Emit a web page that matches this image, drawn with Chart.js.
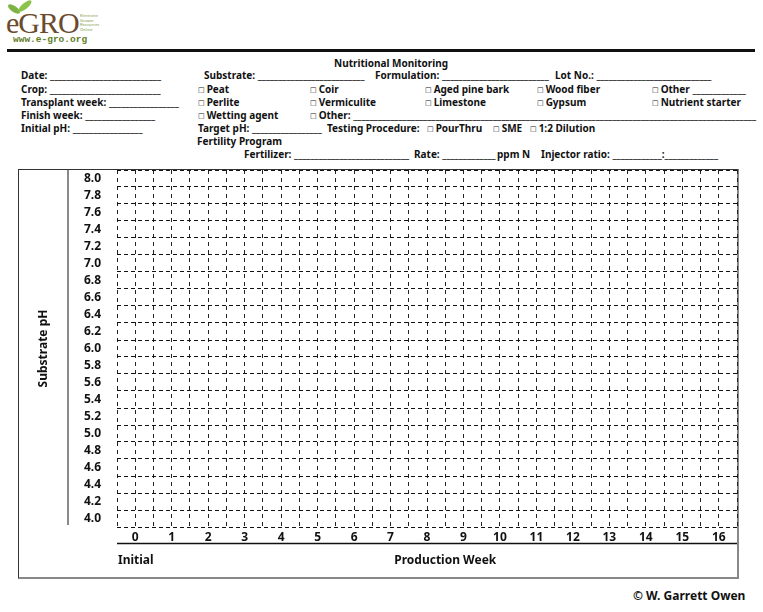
<!DOCTYPE html>
<html>
<head>
<meta charset="utf-8">
<script src="https://cdn.jsdelivr.net/npm/chart.js@4.4.1/dist/chart.umd.min.js"></script>
<style>
  body { margin: 0; width: 763px; height: 612px; position: relative; overflow: hidden; background: #fff;
         font-family: "Noto Sans", sans-serif; font-weight: bold; color: #111; }
  .t { position: absolute; font-size: 10px; line-height: 14px; white-space: nowrap; }
  .cb { font-family: "DejaVu Sans", sans-serif; font-size: 7px; font-weight: normal; vertical-align: 1px; margin-right: 2px; }
  .box { position: absolute; left: 18px; top: 169px; width: 721px; height: 410px; box-sizing: border-box;
         border-top: 1px solid #333; border-left: 1px solid #333; border-right: 2px solid #888; border-bottom: 2px solid #888; }
  #wrap { position: absolute; left: 18px; top: 169px; width: 720px; height: 409px; }
  .leaf { position: absolute; background: #7cb342; border-radius: 50%; }
</style>
</head>
<body>
<!-- logo -->
<div style="position:absolute;left:6px;top:6px;font-family:'Liberation Serif',serif;font-weight:normal;font-size:30px;color:#6b4a2e;letter-spacing:-1px">eGRO</div>
<div class="leaf" style="left:7px;top:6px;width:14px;height:6px;transform:rotate(35deg)"></div>
<div class="leaf" style="left:17px;top:3px;width:16px;height:6px;transform:rotate(-40deg);background:#8bc34a"></div>
<div style="position:absolute;left:80px;top:14px;font-size:4px;line-height:4.5px;color:#7a9a3a;font-weight:normal">Electronic<br>Grower<br>Resources<br>Online</div>
<div style="position:absolute;left:13px;top:34px;font-family:'Liberation Mono',monospace;font-size:9.5px;color:#5f7d27">www.e-gro.org</div>
<div style="position:absolute;left:7px;top:49px;width:748px;height:3px;background:#111"></div>

<!-- form header -->
<div class="t" style="left:334px;top:56px">Nutritional Monitoring</div>

<div class="t" style="left:21px;top:68px">Date: <span class="b" data-r="160"></span></div>
<div class="t" style="left:204px;top:68px">Substrate: <span class="b" data-r="362"></span></div>
<div class="t" style="left:375px;top:68px">Formulation: <span class="b" data-r="546"></span></div>
<div class="t" style="left:555px;top:68px">Lot No.: <span class="b" data-r="709"></span></div>

<div class="t" style="left:21px;top:82px">Crop: <span class="b" data-r="160"></span></div>
<div class="t" style="left:198px;top:82px"><span class="cb">□</span>Peat</div>
<div class="t" style="left:310px;top:82px"><span class="cb">□</span>Coir</div>
<div class="t" style="left:425px;top:82px"><span class="cb">□</span>Aged pine bark</div>
<div class="t" style="left:537px;top:82px"><span class="cb">□</span>Wood fiber</div>
<div class="t" style="left:652px;top:82px"><span class="cb">□</span>Other <span class="b" data-r="745"></span></div>

<div class="t" style="left:21px;top:95px">Transplant week: <span class="b" data-r="176"></span></div>
<div class="t" style="left:198px;top:95px"><span class="cb">□</span>Perlite</div>
<div class="t" style="left:310px;top:95px"><span class="cb">□</span>Vermiculite</div>
<div class="t" style="left:425px;top:95px"><span class="cb">□</span>Limestone</div>
<div class="t" style="left:537px;top:95px"><span class="cb">□</span>Gypsum</div>
<div class="t" style="left:652px;top:95px"><span class="cb">□</span>Nutrient starter</div>

<div class="t" style="left:21px;top:108px">Finish week: <span class="b" data-r="153"></span></div>
<div class="t" style="left:198px;top:108px"><span class="cb">□</span>Wetting agent</div>
<div class="t" style="left:310px;top:108px"><span class="cb">□</span>Other: <span class="b" data-r="752"></span></div>

<div class="t" style="left:21px;top:121px">Initial pH: <span class="b" data-r="139"></span></div>
<div class="t" style="left:198px;top:121px">Target pH: <span class="b" data-r="318"></span></div>
<div class="t" style="left:327px;top:121px">Testing Procedure:</div>
<div class="t" style="left:427px;top:121px"><span class="cb">□</span>PourThru</div>
<div class="t" style="left:493px;top:121px"><span class="cb">□</span>SME</div>
<div class="t" style="left:530px;top:121px"><span class="cb">□</span>1:2 Dilution</div>

<div class="t" style="left:197px;top:134px">Fertility Program</div>

<div class="t" style="left:244px;top:147px">Fertilizer: <span class="b" data-r="406"></span></div>
<div class="t" style="left:414px;top:147px">Rate: <span class="b" data-r="493"></span></div>
<div class="t" style="left:497px;top:147px">ppm N</div>
<div class="t" style="left:541px;top:147px">Injector ratio: <span class="b" data-r="660"></span>:<span class="b" data-r="716"></span></div>

<div class="box"></div>
<div id="wrap"><canvas id="phChart" width="720" height="409"></canvas></div>

<div class="t" style="left:633px;top:588px;font-size:12px;line-height:16px">© W. Garrett Owen</div>

<script>
// chart data (empty monitoring grid)
const weeks = [0, 1, 2, 3, 4, 5, 6, 7, 8, 9, 10, 11, 12, 13, 14, 15, 16];
const phLabels = ['8.0', '7.8', '7.6', '7.4', '7.2', '7.0', '6.8', '6.6', '6.4', '6.2', '6.0',
                  '5.8', '5.6', '5.4', '5.2', '5.0', '4.8', '4.6', '4.4', '4.2', '4.0'];
const phReadings = []; // to be filled in by hand
const yTitle = 'Substrate pH';
const xTitle = 'Production Week';
const initialLabel = 'Initial';

// fill the blanks with underscores up to their right edge
document.querySelectorAll('.b').forEach((el) => {
  const r = +el.dataset.r;
  el.textContent = '_';
  while (el.getBoundingClientRect().right < r) el.textContent += '_';
});

const phValues = phLabels.map(Number);
const r1 = (v) => Math.round(v * 10) / 10;

// pH ticks: each label plus the row edges 0.1 above and below
const yTicks = [...new Set(phValues.flatMap((v) => [r1(v - 0.1), v, r1(v + 0.1)]))].sort((a, b) => a - b);
// week ticks: each week plus the half-week lines either side
const xTicks = [...new Set(weeks.flatMap((w) => [w - 0.5, w, w + 0.5]))].sort((a, b) => a - b);

const tickFont = { family: 'Noto Sans', size: 12, weight: 'bold' };

// no extra label padding, the grid fills the box
function noPad(scale) {
  scale.paddingTop = 0;
  scale.paddingBottom = 0;
  scale.paddingLeft = 0;
  scale.paddingRight = 0;
}

// extra marks: gray rule left of the labels, base rule under weeks, bottom captions
const formMarks = {
  id: 'formMarks',
  afterDraw(chart) {
    const { ctx, chartArea, scales } = chart;
    ctx.save();
    ctx.strokeStyle = '#8a8a8a';
    ctx.lineWidth = 2;
    ctx.beginPath();
    ctx.moveTo(50, chartArea.top);
    ctx.lineTo(50, chartArea.bottom - 2);
    ctx.stroke();

    ctx.strokeStyle = '#111';
    ctx.lineWidth = 1.5;
    ctx.beginPath();
    ctx.moveTo(chartArea.left, 374.5);
    ctx.lineTo(chartArea.right, 374.5);
    ctx.stroke();

    ctx.fillStyle = '#111';
    ctx.font = 'bold 12px "Noto Sans"';
    ctx.textBaseline = 'middle';
    ctx.textAlign = 'left';
    ctx.fillText(initialLabel, chartArea.left + 1, 392);
    ctx.textAlign = 'center';
    const mid = (scales.x.getPixelForValue(weeks[1]) + scales.x.getPixelForValue(weeks[weeks.length - 1])) / 2;
    ctx.fillText(xTitle, mid, 392);
    ctx.restore();
  },
};

new Chart(document.getElementById('phChart'), {
  type: 'line',
  data: {
    datasets: [{ label: 'pH', data: phReadings, borderColor: '#000', pointRadius: 3 }],
  },
  options: {
    responsive: false,
    animation: false,
    layout: { padding: { top: 1, right: 1, left: 0, bottom: 0 } },
    plugins: { legend: { display: false }, tooltip: { enabled: false } },
    scales: {
      x: {
        type: 'linear',
        min: xTicks[0],
        max: xTicks[xTicks.length - 1],
        afterBuildTicks: (scale) => { scale.ticks = xTicks.map((v) => ({ value: v })); },
        afterFit: (scale) => { scale.height = 51; noPad(scale); },
        ticks: {
          autoSkip: false,
          maxRotation: 0,
          padding: 3,
          color: '#111',
          font: tickFont,
          callback: (v) => (Number.isInteger(v) ? String(v) : ''),
        },
        grid: { color: '#222', lineWidth: 1, drawTicks: false },
        border: { display: false, dash: [4, 4] },
      },
      y: {
        type: 'linear',
        min: yTicks[0],
        max: yTicks[yTicks.length - 1],
        afterBuildTicks: (scale) => { scale.ticks = yTicks.map((v) => ({ value: v })); },
        afterFit: (scale) => { scale.width = 99; noPad(scale); },
        ticks: {
          autoSkip: false,
          padding: 16,
          color: '#111',
          font: tickFont,
          callback: (v) => (phValues.includes(r1(v)) ? r1(v).toFixed(1) : ''),
        },
        grid: {
          drawTicks: false,
          lineWidth: 1,
          color: (c) => (c.tick && !phValues.includes(r1(c.tick.value)) ? '#111' : 'rgba(0,0,0,0)'),
        },
        border: { display: false, dash: [4, 3] },
        title: {
          display: true,
          text: yTitle,
          color: '#111',
          font: tickFont,
          padding: { top: 18, bottom: 0 },
        },
      },
    },
  },
  plugins: [formMarks],
});
</script>
</body>
</html>
